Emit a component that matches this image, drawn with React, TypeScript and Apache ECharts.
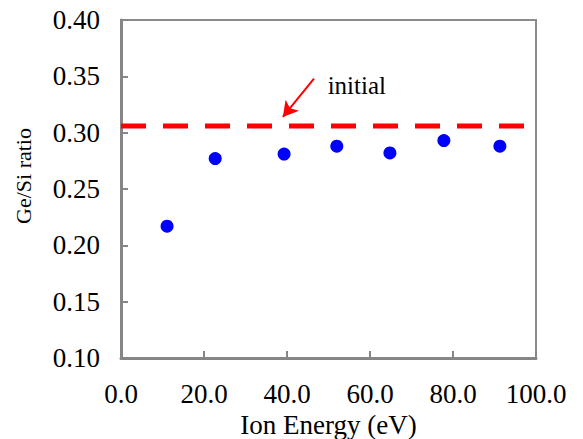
import React, { useEffect, useRef } from "react";
import * as echarts from "echarts";

const ionEnergy = [11.1, 22.7, 39.3, 52.0, 64.8, 77.8, 91.3];
const geSiRatio = [0.217, 0.277, 0.281, 0.288, 0.282, 0.293, 0.288];
const initialRatio = 0.306;
const initialLineX = [0, 100];
const arrowFrom = [46.5, 0.348];
const arrowTo = [39.0, 0.314];
const labelAt = [49.8, 0.342];
const labelText = "initial";

const FONT = "Liberation Serif";

export default function App() {
  const ref = useRef<HTMLDivElement>(null);
  useEffect(() => {
    if (!ref.current) return;
    const chart = echarts.init(ref.current, null, { renderer: "svg" });
    chart.setOption({
      animation: false,
      textStyle: { fontFamily: FONT },
      grid: {
        left: 121,
        right: 47,
        top: 20,
        bottom: 81,
        show: true,
        containLabel: false,
        outerBoundsMode: "none",
        borderColor: "#8c8c8c",
        borderWidth: 2,
        backgroundColor: "transparent",
      },
      xAxis: {
        type: "value",
        min: 0,
        max: 100,
        interval: 20,
        name: "Ion Energy (eV)",
        nameLocation: "middle",
        nameGap: 47,
        nameTextStyle: { fontFamily: FONT, fontSize: 27, color: "#000" },
        axisLine: { lineStyle: { color: "#868686", width: 3 } },
        axisTick: { inside: true, length: 7, lineStyle: { color: "#868686", width: 2 } },
        axisLabel: {
          fontFamily: FONT,
          fontSize: 27,
          color: "#000",
          margin: 22,
          formatter: (v: number) => v.toFixed(1),
        },
        splitLine: { show: false },
      },
      yAxis: {
        type: "value",
        min: 0.1,
        max: 0.4,
        interval: 0.05,
        name: "Ge/Si ratio",
        nameLocation: "middle",
        nameGap: 87,
        nameTextStyle: { fontFamily: FONT, fontSize: 22, color: "#000", padding: [0, 0, 0, 26] },
        axisLine: { lineStyle: { color: "#868686", width: 3 } },
        axisTick: { inside: true, length: 7, lineStyle: { color: "#868686", width: 2 } },
        axisLabel: {
          fontFamily: FONT,
          fontSize: 27,
          color: "#000",
          margin: 21,
          formatter: (v: number) => v.toFixed(2),
        },
        splitLine: { show: false },
      },
      series: [
        {
          type: "line",
          data: initialLineX.map((x) => [x, initialRatio]),
          symbol: "none",
          lineStyle: { color: "#ff0000", width: 5, type: [25, 17] },
          silent: true,
          z: 2,
        },
        {
          type: "scatter",
          data: ionEnergy.map((x, i) => [x, geSiRatio[i]]),
          symbol: "circle",
          symbolSize: 13,
          itemStyle: { color: "#0000ff", opacity: 1 },
          z: 3,
          markLine: {
            silent: true,
            symbol: ["none", "arrow"],
            symbolSize: [13, 15],
            label: { show: false },
            lineStyle: { color: "#ff0000", width: 2, type: "solid", opacity: 1 },
            data: [[{ coord: arrowFrom }, { coord: arrowTo }]],
          },
          markPoint: {
            silent: true,
            symbol: "circle",
            symbolSize: 0,
            data: [{ coord: labelAt, value: labelText }],
            label: {
              show: true,
              position: "right",
              distance: 0,
              formatter: labelText,
              fontFamily: FONT,
              fontSize: 25,
              color: "#000",
            },
          },
        },
      ],
    });
    return () => chart.dispose();
  }, []);
  return (
    <div
      ref={ref}
      style={{ position: "fixed", left: 0, top: 0, width: 583, height: 439, background: "#fff" }}
    />
  );
}
